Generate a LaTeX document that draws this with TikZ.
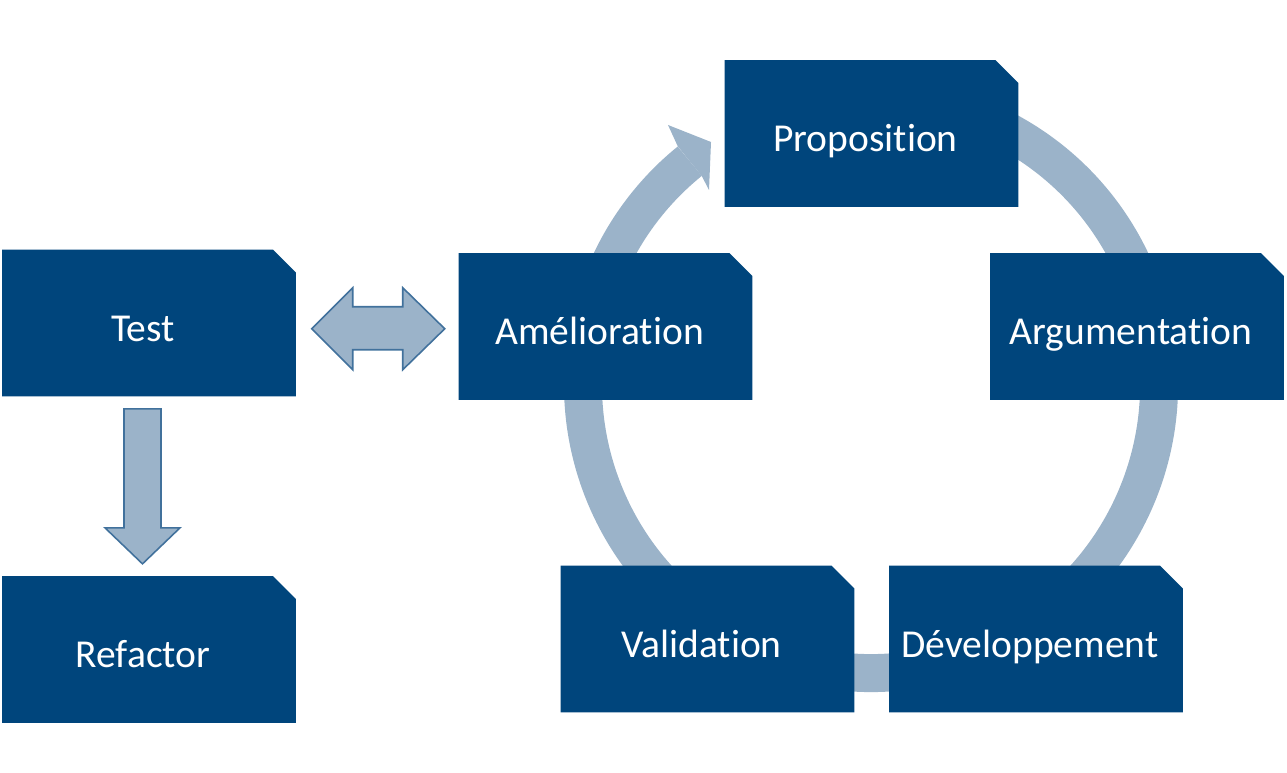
\documentclass[tikz,border=0pt]{standalone}
\usepackage{fontspec}
\setmainfont{Carlito}[Ligatures=NoCommon]
\usetikzlibrary{calc}
\definecolor{boxblue}{RGB}{0,69,124}
\definecolor{ringblue}{RGB}{155,179,201}
\definecolor{edgeblue}{RGB}{65,113,156}
\tikzset{
  stage/.style={rectangle, minimum width=5.88cm, minimum height=2.94cm,
    inner sep=0pt, text=white, font=\fontsize{22.5}{27}\selectfont,
    text height=25.3pt, text depth=4.5pt,
    execute at end node={\hspace*{0.24cm}},
    path picture={\fill[boxblue] (path picture bounding box.south west)
      -- (path picture bounding box.north west)
      -- ([xshift=-0.46cm]path picture bounding box.north east)
      -- ([yshift=-0.46cm]path picture bounding box.north east)
      -- (path picture bounding box.south east) -- cycle;}},
  ring/.style={draw=ringblue, line width=0.76cm},
  blockarrow/.style={fill=ringblue, draw=edgeblue, line width=0.9pt, line join=miter}
}
\begin{document}
\begin{tikzpicture}[x=0.02cm, y=-0.02cm]
\useasboundingbox (0,0) rectangle (1287,773);
% Cycle ring
\coordinate (ringc) at (871,385);
\draw[ring] ([shift={(250:288)}]ringc) arc[start angle=250, end angle=591, radius=288];
\fill[ringblue] ([shift={(231:307)}]ringc) -- (668,125) -- (711,142)
  -- (709,190) -- ([shift={(231:269)}]ringc) -- cycle;
% Stages
\node[stage] (proposition) at (871.5,133.5) {Proposition};
\node[stage] (argumentation) at (1137,326.5) {Argumentation};
\node[stage] (developpement) at (1036,639) {Développement};
\node[stage] (validation) at (707.5,639) {Validation};
\node[stage] (amelioration) at (605.5,326.5) {Amélioration};
\node[stage] (test) at (149,323) {Test};
\node[stage] (refactor) at (149,649.5) {Refactor};
% Double arrow Test <-> Amelioration
\coordinate (dbl) at ($(test.east)!0.5!(amelioration.west)+(1,4)$);
\draw[blockarrow] (dbl) ++(-66.5,0) -- ++(41,-41) -- ++(0,19) -- ++(50,0)
  -- ++(0,-19) -- ++(42,41) -- ++(-42,41) -- ++(0,-20) -- ++(-50,0)
  -- ++(0,20) -- cycle;
% Down arrow Test -> Refactor
\coordinate (dwn) at ([xshift=-6.5*0.02cm, yshift=-12*0.02cm]test.south);
\draw[blockarrow] (dwn) ++(-18.5,0) -- ++(37,0) -- ++(0,119) -- ++(19,0)
  -- ++(-37.5,36) -- ++(-37.5,-36) -- ++(19,0) -- cycle;
\end{tikzpicture}
\end{document}
